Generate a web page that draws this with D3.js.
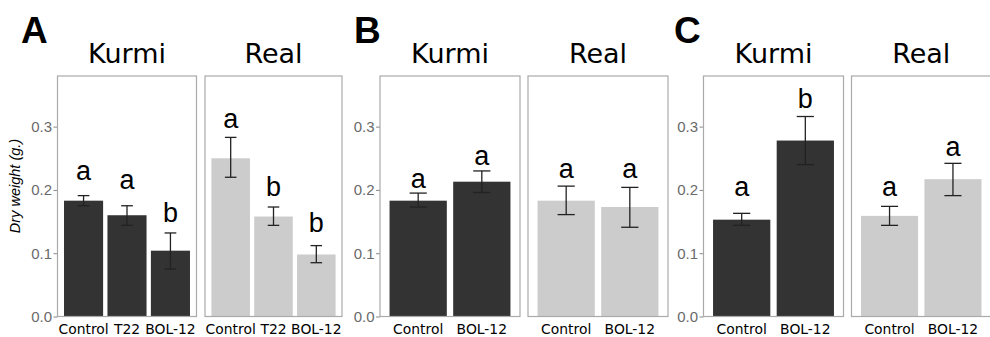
<!DOCTYPE html>
<html>
<head>
<meta charset="utf-8">
<script src="https://cdn.jsdelivr.net/npm/d3@7"></script>
<style>
  body { margin: 0; background: #fff; }
  svg { display: block; }
</style>
</head>
<body>
<svg width="990" height="337"></svg>
<script>
// treatments per experiment
const groupsA = ["Control", "T22", "BOL-12"];
const groupsBC = ["Control", "BOL-12"];
const sites = ["Kurmi", "Real"];
const yTicks = [0.0, 0.1, 0.2, 0.3];

// experiment A
const meanA_kurmi = [0.183, 0.160, 0.104];
const loA_kurmi   = [0.175, 0.144, 0.075];
const hiA_kurmi   = [0.191, 0.175, 0.132];
const letA_kurmi  = ["a", "a", "b"];
const letYA_kurmi = [0.216, 0.201, 0.150];

const meanA_real = [0.250, 0.158, 0.098];
const loA_real   = [0.220, 0.144, 0.085];
const hiA_real   = [0.283, 0.173, 0.112];
const letA_real  = ["a", "b", "b"];
const letYA_real = [0.298, 0.190, 0.134];

// experiment B
const meanB_kurmi = [0.183, 0.213];
const loB_kurmi   = [0.173, 0.196];
const hiB_kurmi   = [0.195, 0.230];
const letB_kurmi  = ["a", "a"];
const letYB_kurmi = [0.203, 0.240];

const meanB_real = [0.183, 0.173];
const loB_real   = [0.161, 0.141];
const hiB_real   = [0.206, 0.204];
const letB_real  = ["a", "a"];
const letYB_real = [0.219, 0.219];

// experiment C
const meanC_kurmi = [0.153, 0.278];
const loC_kurmi   = [0.144, 0.240];
const hiC_kurmi   = [0.163, 0.316];
const letC_kurmi  = ["a", "b"];
const letYC_kurmi = [0.190, 0.330];

const meanC_real = [0.159, 0.217];
const loC_real   = [0.144, 0.191];
const hiC_real   = [0.174, 0.242];
const letC_real  = ["a", "a"];
const letYC_real = [0.190, 0.253];

function rows(groups, mean, lo, hi, lets, letY) {
    return groups.map(function(g, i) {
        return {g: g, mean: mean[i], lo: lo[i], hi: hi[i], letter: lets[i], ly: letY[i]};
    });
}

// layout
const experiments = [
    {tag: "A", tagX: 21, axisX: 57.5, groups: groupsA, panels: [
        {x0: 57.5, x1: 196.5, fill: "#333333", data: rows(groupsA, meanA_kurmi, loA_kurmi, hiA_kurmi, letA_kurmi, letYA_kurmi)},
        {x0: 205, x1: 342, fill: "#cccccc", data: rows(groupsA, meanA_real, loA_real, hiA_real, letA_real, letYA_real)}
    ]},
    {tag: "B", tagX: 354, axisX: 380, groups: groupsBC, panels: [
        {x0: 380, x1: 520, fill: "#333333", data: rows(groupsBC, meanB_kurmi, loB_kurmi, hiB_kurmi, letB_kurmi, letYB_kurmi)},
        {x0: 528, x1: 668, fill: "#cccccc", data: rows(groupsBC, meanB_real, loB_real, hiB_real, letB_real, letYB_real)}
    ]},
    {tag: "C", tagX: 674, axisX: 703.5, groups: groupsBC, panels: [
        {x0: 703.5, x1: 843.5, fill: "#333333", data: rows(groupsBC, meanC_kurmi, loC_kurmi, hiC_kurmi, letC_kurmi, letYC_kurmi)},
        {x0: 851.5, x1: 991, fill: "#cccccc", data: rows(groupsBC, meanC_real, loC_real, hiC_real, letC_real, letYC_real)}
    ]}
];

const plotTop = 76, plotBottom = 316.5;
const svg = d3.select("svg");

const y = d3.scaleLinear().domain([0, 0.38]).range([plotBottom, plotTop]);

// y axis title
svg.append("text")
    .attr("transform", "translate(20,186) rotate(-90)")
    .attr("text-anchor", "middle")
    .attr("font-family", "Liberation Sans, Arial, sans-serif")
    .attr("font-style", "italic")
    .attr("font-size", 14.5)
    .attr("fill", "#000")
    .text("Dry weight (g.)");

experiments.forEach(function(ex) {

    svg.append("text")
        .attr("x", ex.tagX)
        .attr("y", 43)
        .attr("font-family", "Liberation Sans, Arial, sans-serif")
        .attr("font-weight", "bold")
        .attr("font-size", 37)
        .text(ex.tag);

    // y axis
    const ax = svg.append("g")
        .attr("transform", "translate(" + ex.axisX + ",0)")
        .call(d3.axisLeft(y).tickValues(yTicks).tickFormat(d3.format(".1f")).tickSize(4).tickPadding(1.5));
    ax.select(".domain").remove();
    ax.selectAll("line").attr("stroke", "#888");
    ax.selectAll("text")
        .attr("font-family", "Liberation Sans, Arial, sans-serif")
        .attr("font-size", 15)
        .attr("fill", "#6a6a6a");

    ex.panels.forEach(function(p, pi) {
        const x = d3.scaleBand()
            .domain(ex.groups)
            .range([p.x0, p.x1])
            .paddingInner(0.1)
            .paddingOuter(0.15);

        const g = svg.append("g");

        // facet title
        g.append("text")
            .attr("x", (p.x0 + p.x1) / 2)
            .attr("y", 63)
            .attr("text-anchor", "middle")
            .attr("font-family", "DejaVu Sans, Verdana, sans-serif")
            .attr("font-size", 27)
            .text(sites[pi]);

        g.selectAll(".bar")
            .data(p.data)
            .enter().append("rect")
            .attr("class", "bar")
            .attr("x", function(d) { return x(d.g); })
            .attr("width", x.bandwidth())
            .attr("y", function(d) { return y(d.mean); })
            .attr("height", function(d) { return y(0) - y(d.mean); })
            .attr("fill", p.fill);

        // error bars
        const cap = x.bandwidth() * 0.3;
        const eb = g.selectAll(".err")
            .data(p.data)
            .enter().append("g")
            .attr("class", "err")
            .attr("stroke", "#222")
            .attr("stroke-width", 1.3);
        eb.append("line")
            .attr("x1", function(d) { return x(d.g) + x.bandwidth() / 2; })
            .attr("x2", function(d) { return x(d.g) + x.bandwidth() / 2; })
            .attr("y1", function(d) { return y(d.lo); })
            .attr("y2", function(d) { return y(d.hi); });
        eb.append("line")
            .attr("x1", function(d) { return x(d.g) + x.bandwidth() / 2 - cap / 2; })
            .attr("x2", function(d) { return x(d.g) + x.bandwidth() / 2 + cap / 2; })
            .attr("y1", function(d) { return y(d.lo); })
            .attr("y2", function(d) { return y(d.lo); });
        eb.append("line")
            .attr("x1", function(d) { return x(d.g) + x.bandwidth() / 2 - cap / 2; })
            .attr("x2", function(d) { return x(d.g) + x.bandwidth() / 2 + cap / 2; })
            .attr("y1", function(d) { return y(d.hi); })
            .attr("y2", function(d) { return y(d.hi); });

        // significance letters
        g.selectAll(".let")
            .data(p.data)
            .enter().append("text")
            .attr("class", "let")
            .attr("x", function(d) { return x(d.g) + x.bandwidth() / 2; })
            .attr("y", function(d) { return y(d.ly); })
            .attr("text-anchor", "middle")
            .attr("font-family", "Liberation Sans, Arial, sans-serif")
            .attr("font-size", 27)
            .text(function(d) { return d.letter; });

        // panel border
        g.append("rect")
            .attr("x", p.x0)
            .attr("y", plotTop)
            .attr("width", p.x1 - p.x0)
            .attr("height", plotBottom - plotTop)
            .attr("fill", "none")
            .attr("stroke", "#aaa")
            .attr("stroke-width", 1.2);

        // x labels
        g.selectAll(".xl")
            .data(p.data)
            .enter().append("text")
            .attr("class", "xl")
            .attr("x", function(d) { return x(d.g) + x.bandwidth() / 2; })
            .attr("y", 334)
            .attr("text-anchor", "middle")
            .attr("font-family", "DejaVu Sans, Verdana, sans-serif")
            .attr("font-size", 13.9)
            .attr("fill", "#000")
            .text(function(d) { return d.g; });
    });
});
</script>
</body>
</html>
